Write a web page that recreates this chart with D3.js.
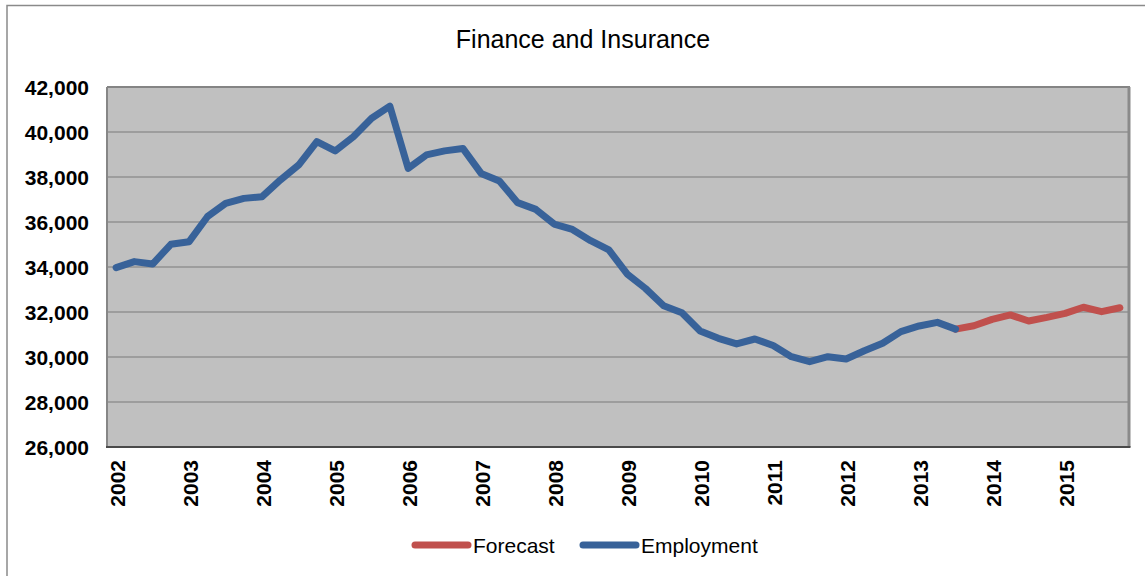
<!DOCTYPE html>
<html>
<head>
<meta charset="utf-8">
<script src="https://cdn.jsdelivr.net/npm/d3@7"></script>
<style>
  html, body { margin: 0; padding: 0; background: #fff; }
  svg { display: block; }
  text { font-family: "Liberation Sans", Arial, sans-serif; fill: #000; }
</style>
</head>
<body>
<svg id="chart" width="1145" height="576"></svg>
<script>
// Quarterly employment, Finance and Insurance, with a forecast tail
const years = [2002, 2003, 2004, 2005, 2006, 2007, 2008, 2009, 2010, 2011, 2012, 2013, 2014, 2015];
const quarters = ["Q1", "Q2", "Q3", "Q4"];
const categories = years.flatMap(y => quarters.map(q => `${y} ${q}`));

const employment = [
  33970, 34240, 34130, 35010,
  35125, 36236, 36830, 37050,
  37125, 37870, 38530, 39570,
  39160, 39790, 40610, 41150,
  38385, 38980, 39160, 39270,
  38160, 37820, 36860, 36560,
  35910, 35670, 35170, 34760,
  33690, 33050, 32280, 31970,
  31160, 30830, 30580, 30800,
  30510, 30015, 29790, 30015,
  29910, 30280, 30610, 31130,
  31380, 31540, 31240
];
const forecastStart = "2013 Q3";
const forecast = [31240, 31390, 31670, 31870, 31600, 31760, 31940, 32210, 32015, 32190];

const yTicks = [26000, 28000, 30000, 32000, 34000, 36000, 38000, 40000, 42000];
const title = "Finance and Insurance";
const seriesNames = { forecast: "Forecast", employment: "Employment" };

const colors = { employment: "#386299", forecast: "#c0504d" };

const svg = d3.select("#chart");
const plot = { left: 107, right: 1129, top: 87, bottom: 447 };

// outer chart frame
svg.append("path")
  .attr("d", `M7,576 V5.5 H1145`)
  .attr("fill", "none")
  .attr("stroke", "#8a8a8a")
  .attr("stroke-width", 1.5);

const x = d3.scaleBand().domain(categories).range([plot.left, plot.right]);
const cx = c => x(c) + x.bandwidth() / 2;
const y = d3.scaleLinear().domain([26000, 42000]).range([plot.bottom, plot.top]);

// plot background
svg.append("rect")
  .attr("x", plot.left).attr("y", plot.top)
  .attr("width", plot.right - plot.left).attr("height", plot.bottom - plot.top)
  .attr("fill", "#c0c0c0");

// horizontal gridlines
svg.append("g").selectAll("line")
  .data(yTicks.slice(1))
  .join("line")
  .attr("x1", plot.left).attr("x2", plot.right)
  .attr("y1", d => y(d)).attr("y2", d => y(d))
  .attr("stroke", "#929292").attr("stroke-width", 1.5);

// plot border: top and right in grey, axes on left and bottom
svg.append("line").attr("x1", plot.left).attr("x2", plot.right + 1)
  .attr("y1", plot.top).attr("y2", plot.top)
  .attr("stroke", "#848484").attr("stroke-width", 2);
svg.append("line").attr("x1", plot.right).attr("x2", plot.right)
  .attr("y1", plot.top).attr("y2", plot.bottom)
  .attr("stroke", "#8a8a8a").attr("stroke-width", 3);
svg.append("line").attr("x1", plot.left).attr("x2", plot.left)
  .attr("y1", plot.top).attr("y2", plot.bottom)
  .attr("stroke", "#868686").attr("stroke-width", 2);
svg.append("line").attr("x1", plot.left - 1).attr("x2", plot.right + 1.5)
  .attr("y1", plot.bottom).attr("y2", plot.bottom)
  .attr("stroke", "#4a4a4a").attr("stroke-width", 2);

// y axis labels
svg.append("g").selectAll("text")
  .data(yTicks)
  .join("text")
  .attr("x", plot.left - 18)
  .attr("y", d => y(d))
  .attr("dy", "0.36em")
  .attr("text-anchor", "end")
  .attr("font-size", 21)
  .attr("font-weight", "bold")
  .text(d => d3.format(",")(d));

// x axis labels: one per year, on its first quarter, rotated
svg.append("g").selectAll("text")
  .data(years)
  .join("text")
  .attr("transform", d => `translate(${cx(`${d} Q1`) + 1},${plot.bottom + 13}) rotate(-90)`)
  .attr("dy", "0.36em")
  .attr("text-anchor", "end")
  .attr("font-size", 21)
  .attr("font-weight", "bold")
  .text(d => d);

// series lines: forecast first, employment drawn over it at the join
const empData = employment.map((v, i) => ({ c: categories[i], v }));
const fStart = categories.indexOf(forecastStart);
const fcData = forecast.map((v, i) => ({ c: categories[fStart + i], v }));

const line = d3.line().x(d => cx(d.c)).y(d => y(d.v));

svg.append("path")
  .datum(fcData)
  .attr("d", line)
  .attr("fill", "none")
  .attr("stroke", colors.forecast)
  .attr("stroke-width", 7)
  .attr("stroke-linejoin", "round")
  .attr("stroke-linecap", "round");

svg.append("path")
  .datum(empData)
  .attr("d", line)
  .attr("fill", "none")
  .attr("stroke", colors.employment)
  .attr("stroke-width", 7)
  .attr("stroke-linejoin", "round")
  .attr("stroke-linecap", "round");

// title
svg.append("text")
  .attr("x", 583).attr("y", 48)
  .attr("text-anchor", "middle")
  .attr("font-size", 25)
  .text(title);

// legend
const legendItems = [
  { key: "forecast", x: 415 },
  { key: "employment", x: 583 }
];
const lg = svg.append("g").selectAll("g")
  .data(legendItems)
  .join("g")
  .attr("transform", d => `translate(${d.x},545)`);
lg.append("line")
  .attr("x1", 0).attr("x2", 53)
  .attr("stroke", d => colors[d.key])
  .attr("stroke-width", 7)
  .attr("stroke-linecap", "round");
lg.append("text")
  .attr("x", 58)
  .attr("dy", "0.36em")
  .attr("font-size", 21)
  .text(d => seriesNames[d.key]);
</script>
</body>
</html>
